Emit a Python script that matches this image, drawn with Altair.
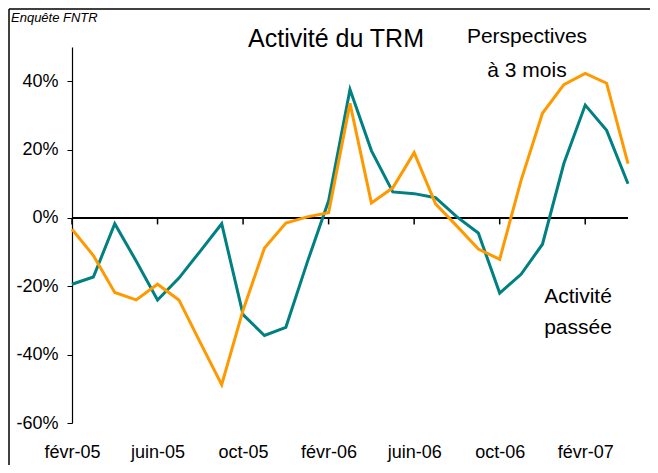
import altair as alt
import pandas as pd

months = ["févr-05", "mars-05", "avr-05", "mai-05", "juin-05", "juil-05", "août-05",
          "sept-05", "oct-05", "nov-05", "déc-05", "janv-06", "févr-06", "mars-06",
          "avr-06", "mai-06", "juin-06", "juil-06", "août-06", "sept-06", "oct-06",
          "nov-06", "déc-06", "janv-07", "févr-07", "mars-07", "avr-07"]
activite = [-19.4, -17.3, -1.7, -12.6, -24.0, -17.6, -9.7, -1.7, -28.3, -34.4, -32.0,
            -13.0, 5.0, 37.6, 19.7, 7.6, 7.1, 5.9, 0.3, -4.4, -22.0, -16.5, -7.7,
            15.9, 33.0, 25.6, 10.0]
perspectives = [-3.3, -11.0, -21.8, -24.0, -19.4, -24.0, -36.5, -48.8, -27.0, -8.8,
                -1.5, 0.3, 1.5, 33.5, 4.4, 8.8, 19.1, 4.1, -2.4, -9.1, -12.1, 11.0,
                30.6, 39.0, 42.3, 39.4, 15.9]
tick_months = months[::4]
y_ticks = [-60, -40, -20, 0, 20, 40]

FONT = "Liberation Sans"

df = pd.DataFrame({
    "mois": months * 2,
    "valeur": activite + perspectives,
    "serie": ["Activité passée"] * len(months) + ["Perspectives à 3 mois"] * len(months),
})
ticks_df = pd.DataFrame({"mois": tick_months})
one = pd.DataFrame({"k": [0]})

x_enc = alt.X("mois:O", sort=months,
              scale=alt.Scale(type="point", padding=0),
              axis=alt.Axis(values=tick_months, title=None, labelAngle=0,
                            labelAlign="center", labelFlush=False, labelBound=False,
                            domain=False, ticks=False, labelPadding=29,
                            labelFontSize=18, labelFont=FONT, labelColor="black"))
y_scale = alt.Scale(domain=[-60, 50], nice=False, zero=False)

lines = alt.Chart(df).mark_line(strokeWidth=3).encode(
    x=x_enc,
    y=alt.Y("valeur:Q", scale=y_scale,
            axis=alt.Axis(values=y_ticks, title=None, grid=False,
                          labelExpr="datum.value + '%'", tickSize=5,
                          tickColor="black", domainColor="black",
                          labelPadding=9, labelFontSize=18, labelFont=FONT,
                          labelColor="black", domainWidth=1.2)),
    color=alt.Color("serie:N",
                    scale=alt.Scale(domain=["Activité passée", "Perspectives à 3 mois"],
                                    range=["#008080", "#FF9900"]),
                    legend=None),
)

zero = alt.Chart(one).mark_rule(color="black", strokeWidth=2).encode(y=alt.datum(0))

tick_rules = alt.Chart(ticks_df).mark_rule(color="black", strokeWidth=1.5).encode(
    x=alt.X("mois:O", sort=months), y=alt.datum(0), y2=alt.datum(-1.9)
)

def label(text, x, y, size, style="normal", align="center"):
    return alt.Chart(one).mark_text(text=text, fontSize=size, font=FONT,
                                    fontStyle=style, align=align,
                                    baseline="middle", color="black").encode(
        x=alt.value(x), y=alt.value(y))

title = label("Activité du TRM", 264, -8, 25)
persp1 = label("Perspectives", 455, -10, 21)
persp2 = label("à 3 mois", 455, 24, 21)
act1 = label("Activité", 506, 250, 21)
act2 = label("passée", 506, 281, 21)
source = label("Enquête FNTR", -61, -29, 13, style="italic", align="left")

frame_top = alt.Chart(one).mark_rule(color="black", strokeWidth=1.5).encode(
    x=alt.value(-63), x2=alt.value(600), y=alt.value(-38))
frame_left = alt.Chart(one).mark_rule(color="black", strokeWidth=1.5).encode(
    x=alt.value(-63), y=alt.value(-38), y2=alt.value(440))

chart = alt.layer(
    frame_top, frame_left, zero, tick_rules, lines,
    title, persp1, persp2, act1, act2, source
).properties(
    width=556, height=376,
    autosize=alt.AutoSizeParams(type="none"),
    padding={"left": 64, "top": 39, "right": 22, "bottom": 42},
).configure_view(stroke=None)

chart.save("out.html", embed_options={"renderer": "svg", "actions": False})
